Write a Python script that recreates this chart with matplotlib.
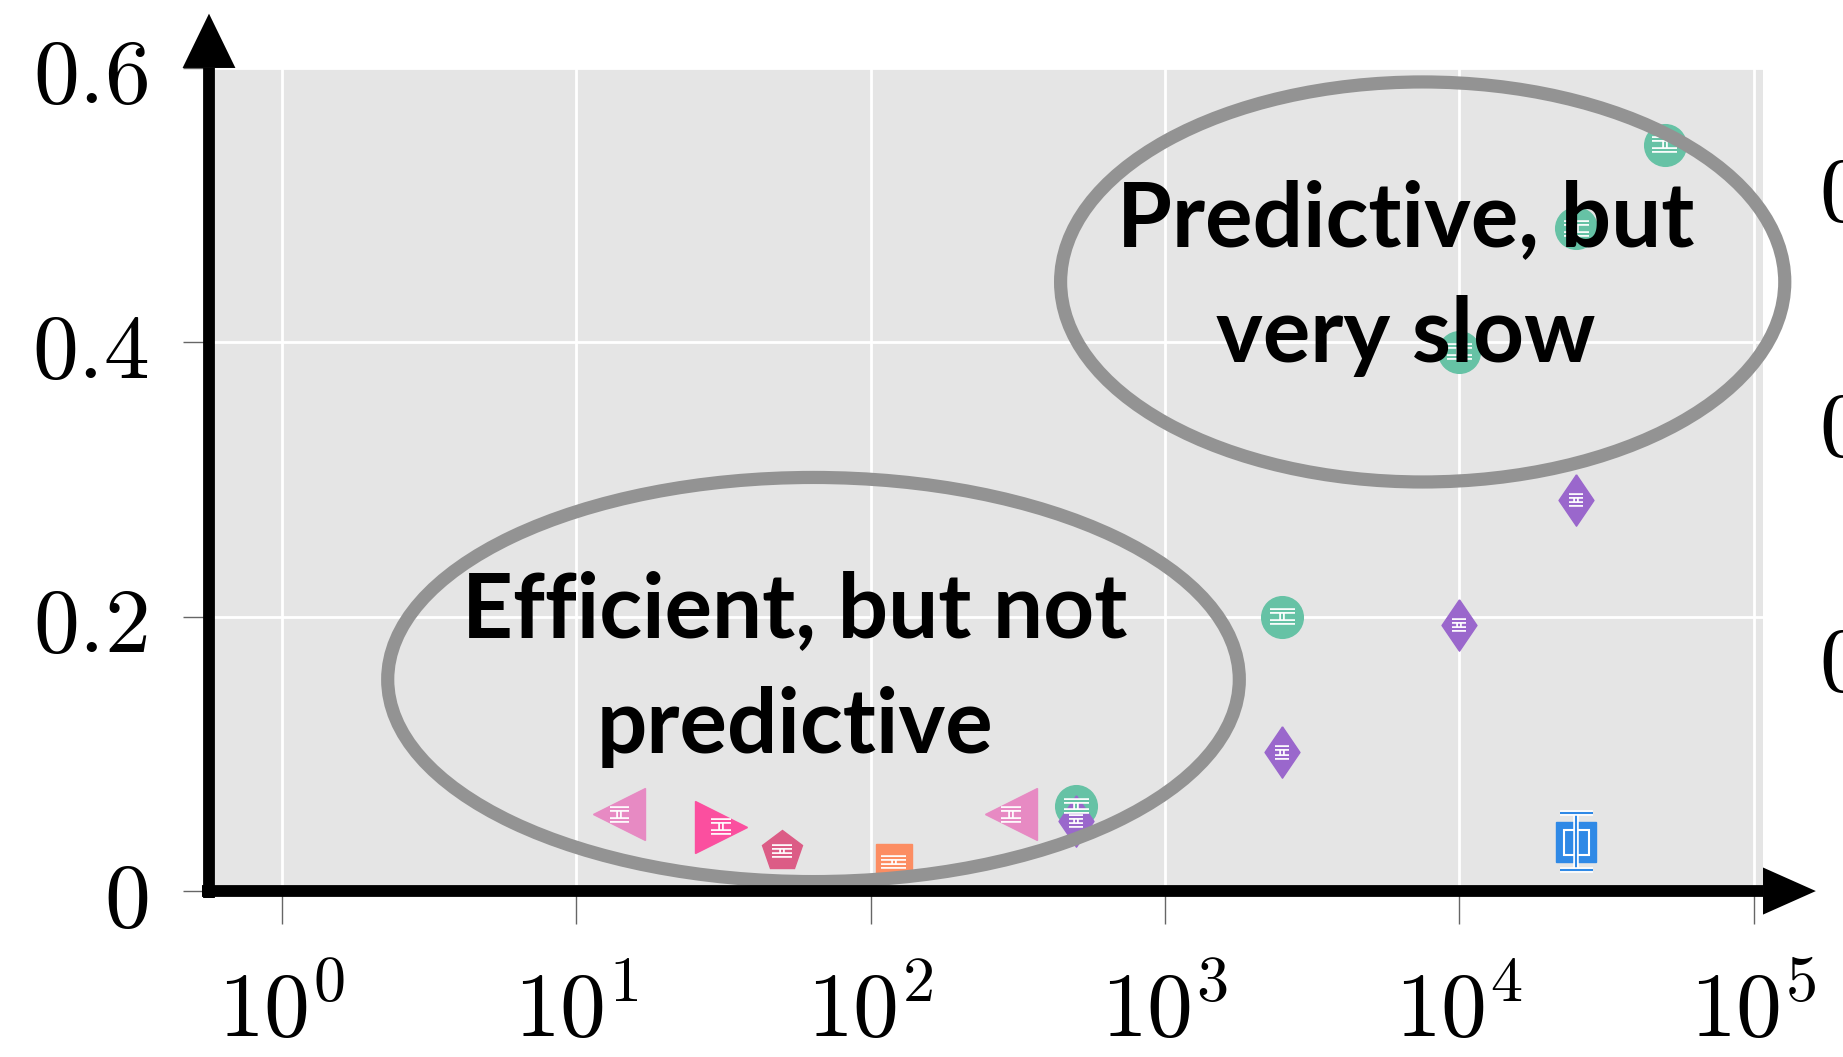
import numpy as np
import matplotlib
matplotlib.use("Agg")
import matplotlib.pyplot as plt
import matplotlib.patheffects as pe
from matplotlib.patches import Ellipse, Polygon
from matplotlib.ticker import FixedLocator, FixedFormatter

plt.rcParams['mathtext.fontset'] = 'cm'

# cost (log x) vs. score for each method group
green_x = [500, 2500, 10000, 25000, 50000]
green_y = [0.062, 0.200, 0.393, 0.483, 0.544]
purple_x = [500, 2500, 10000, 25000]
purple_y = [0.051, 0.101, 0.194, 0.285]
blue_x = [25000]
blue_y = [0.036]
blue_err = [0.021]
orange_x = [120]
orange_y = [0.021]
pink_x = [14, 300]
pink_y = [0.056, 0.056]
magenta_x = [31]
magenta_y = [0.047]
rose_x = [50]
rose_y = [0.029]

xticks = [1, 10, 100, 1000, 10000, 100000]
xlabels = [r'$10^{%d}$' % k for k in range(6)]
yticks = [0, 0.2, 0.4, 0.6]
ylabels = [r'$0$', r'$0.2$', r'$0.4$', r'$0.6$']
rticks = [0.2, 0.4, 0.6]
rlabels = [r'$0.2$', r'$0.4$', r'$0.6$']

fig = plt.figure(figsize=(18.43, 10.57), dpi=100)
ax = fig.add_axes([0.1134, 0.157, 0.8432, 0.7787])
ax.set_facecolor('#e5e5e5')
ax.set_xscale('log')
ax.set_xlim(10 ** -0.248, 10 ** 5.032)
ax.set_ylim(0, 0.6)

ax.xaxis.set_major_locator(FixedLocator(xticks))
ax.xaxis.set_major_formatter(FixedFormatter(xlabels))
ax.xaxis.set_minor_locator(FixedLocator([]))
ax.yaxis.set_major_locator(FixedLocator(yticks))
ax.yaxis.set_major_formatter(FixedFormatter(ylabels))
ax.grid(True, color='white', linewidth=2)
ax.set_axisbelow(True)
for s in ax.spines.values():
    s.set_visible(False)
ax.tick_params(axis='x', length=24, width=1, color='#666666', pad=30, labelsize=66)
ax.tick_params(axis='y', length=19, width=1, color='#666666', pad=25, labelsize=66)

# thick arrowed axes
axis_kw = dict(color='black', linewidth=8.5, transform=ax.transAxes, clip_on=False,
               solid_capstyle='butt', zorder=6)
ax.plot([0, 0], [-0.009, 1.0], **axis_kw)
ax.plot([-0.0045, 1.0], [0, 0], **axis_kw)
ax.add_patch(Polygon([[-0.017, 1.0], [0.017, 1.0], [0.0, 1.066]], closed=True,
                     facecolor='black', edgecolor='none', transform=ax.transAxes,
                     clip_on=False, zorder=6))
ax.add_patch(Polygon([[1.0, -0.0286], [1.0, 0.0286], [1.034, 0.0]], closed=True,
                     facecolor='black', edgecolor='none', transform=ax.transAxes,
                     clip_on=False, zorder=6))

stroke = [pe.Stroke(linewidth=4.0, foreground='white'), pe.Normal()]
diamond = [(0, 1), (0.68, 0), (0, -1), (-0.68, 0), (0, 1)]


def draw(xs, ys, color, marker, ms, err=None, cap=8):
    ax.plot(xs, ys, linestyle='none', marker=marker, markersize=ms,
            color=color, markeredgecolor=color, zorder=3, clip_on=False)
    if err is None:
        err = [0.004] * len(xs)
    cont = ax.errorbar(xs, ys, yerr=err, fmt='none', ecolor=color, elinewidth=1.5,
                       capsize=cap, capthick=1.5, zorder=4)
    for c in cont[1]:
        c.set_path_effects(stroke)
    for c in cont[2]:
        c.set_path_effects(stroke)


draw(green_x, green_y, '#66c2a5', 'o', 30, cap=9)
draw(purple_x, purple_y, '#9a67cc', diamond, 37, err=[0.003] * 4, cap=5)
draw(blue_x, blue_y, '#2f89e6', 's', 29, err=blue_err, cap=12)
ax.plot(blue_x, blue_y, linestyle='none', marker='s', markersize=18,
        markerfacecolor='#2f89e6', markeredgecolor='white', markeredgewidth=1.5, zorder=3.5)
draw(orange_x, orange_y, '#fc8d62', 's', 26, err=[0.003], cap=9)
draw(pink_x, pink_y, '#e78ac3', '<', 38, err=[0.004, 0.004], cap=7)
draw(magenta_x, magenta_y, '#fb4f9f', '>', 38, err=[0.004], cap=7)
draw(rose_x, rose_y, '#dc5c86', 'p', 30, err=[0.003], cap=7)

# region outlines
ax.add_patch(Ellipse((0.389, 0.257), 0.548, 0.491, transform=ax.transAxes, fill=False,
                     edgecolor='#939393', linewidth=9.5, clip_on=False, zorder=5))
ax.add_patch(Ellipse((0.781, 0.740), 0.466, 0.486, transform=ax.transAxes, fill=False,
                     edgecolor='#939393', linewidth=9.5, clip_on=False, zorder=5))

txt_kw = dict(transform=ax.transAxes, ha='center', va='center', fontsize=64,
              fontweight='bold', family='Lato', linespacing=1.5, zorder=7)
ax.text(0.377, 0.27, 'Efficient, but not\npredictive', **txt_kw)
ax.text(0.770, 0.745, 'Predictive, but\nvery slow', **txt_kw)

# right-hand scale, cut off at the figure edge
ax2 = ax.twinx()
ax2.set_ylim(0, 0.7)
ax2.yaxis.set_major_locator(FixedLocator(rticks))
ax2.yaxis.set_major_formatter(FixedFormatter(rlabels))
ax2.tick_params(axis='y', length=0, pad=40, labelsize=66)
for s in ax2.spines.values():
    s.set_visible(False)

fig.savefig('out.png', dpi=100)
